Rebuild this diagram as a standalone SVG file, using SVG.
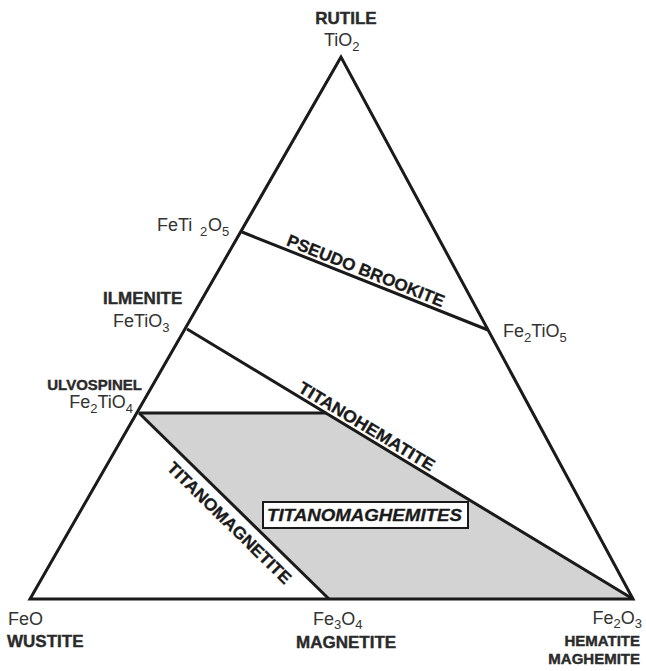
<svg xmlns="http://www.w3.org/2000/svg" width="646" height="671" viewBox="0 0 646 671">
<style>
  .ln{fill:none;stroke:#1a1a1a;stroke-width:3;stroke-linejoin:miter;stroke-linecap:butt}
  .f{font-family:"Liberation Sans",Arial,sans-serif;font-size:18px;fill:#333}
  .s{font-size:13px}
  .b{font-family:"Liberation Sans",Arial,sans-serif;font-weight:bold;font-size:17px;fill:#2a2a2a;stroke:#2a2a2a;stroke-width:0.4}
  .b15{font-size:15px}
  .r{font-family:"Liberation Sans",Arial,sans-serif;font-weight:bold;font-size:17px;fill:#1a1a1a;stroke:#1a1a1a;stroke-width:0.3}
</style>
<rect width="646" height="671" fill="#ffffff"/>
<g id="shaded-region">
  <polygon points="139,413 326,413 633,599 329,599" fill="#d3d3d3"/>
</g>
<g id="connectors">
  <polygon class="ln" points="341,57 30,599 633,599"/>
  <line class="ln" x1="242" y1="232" x2="488" y2="330"/>
  <line class="ln" x1="187" y1="329" x2="633" y2="599"/>
  <line class="ln" x1="139" y1="413" x2="326" y2="413"/>
  <line class="ln" x1="139" y1="413" x2="329" y2="599"/>
</g>
<g id="node-rutile">
  <text class="b" x="346" y="24" text-anchor="middle">RUTILE</text>
  <text class="f" x="324" y="46">TiO<tspan class="s" dy="5">2</tspan></text>
</g>
<g id="node-feti2o5">
  <text class="f" x="157" y="231">FeTi</text>
  <text class="f s" x="200" y="236">2</text>
  <text class="f" x="208" y="231">O<tspan class="s" dy="5">5</tspan></text>
</g>
<g id="node-fe2tio5">
  <text class="f" x="503" y="337">Fe<tspan class="s" dy="5">2</tspan><tspan dy="-5">TiO</tspan><tspan class="s" dy="5">5</tspan></text>
</g>
<g id="node-ilmenite">
  <text class="b" x="103" y="304">ILMENITE</text>
  <text class="f" x="113" y="327">FeTiO<tspan class="s" dy="5">3</tspan></text>
</g>
<g id="node-ulvospinel">
  <text class="b b15" x="142" y="390" text-anchor="end">ULVOSPINEL</text>
  <text class="f" x="133" y="408" text-anchor="end">Fe<tspan class="s" dy="5">2</tspan><tspan dy="-5">TiO</tspan><tspan class="s" dy="5">4</tspan></text>
</g>
<g id="node-wustite">
  <text class="f" x="8" y="625">FeO</text>
  <text class="b" x="7" y="647">WUSTITE</text>
</g>
<g id="node-magnetite">
  <text class="f" x="313" y="625">Fe<tspan class="s" dy="4">3</tspan><tspan dy="-4">O</tspan><tspan class="s" dy="4">4</tspan></text>
  <text class="b" x="296" y="648">MAGNETITE</text>
</g>
<g id="node-hematite">
  <text class="f" x="642" y="624" text-anchor="end">Fe<tspan class="s" dy="4">2</tspan><tspan dy="-4">O</tspan><tspan class="s" dy="4">3</tspan></text>
  <text class="b b15" x="640" y="646" text-anchor="end">HEMATITE</text>
  <text class="b b15" x="640" y="664" text-anchor="end">MAGHEMITE</text>
</g>
<g id="line-labels">
  <text class="r" transform="translate(285.5,245) rotate(21.7)" textLength="168" lengthAdjust="spacingAndGlyphs">PSEUDO BROOKITE</text>
  <text class="r" transform="translate(297,391) rotate(31.2)" textLength="156" lengthAdjust="spacingAndGlyphs">TITANOHEMATITE</text>
  <text class="r" transform="translate(166,469) rotate(44.4)" textLength="166" lengthAdjust="spacingAndGlyphs">TITANOMAGNETITE</text>
</g>
<g id="node-titanomaghemites">
  <rect x="263" y="502" width="205" height="26" fill="#ffffff" stroke="#1a1a1a" stroke-width="2"/>
  <text class="r" x="267" y="521" font-style="italic" font-size="18" textLength="195" lengthAdjust="spacingAndGlyphs">TITANOMAGHEMITES</text>
</g>
</svg>
